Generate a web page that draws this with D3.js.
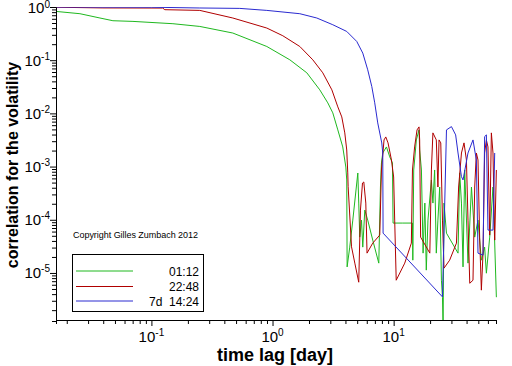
<!DOCTYPE html>
<html><head><meta charset="utf-8">
<script src="https://cdn.jsdelivr.net/npm/d3@7"></script>
<style>
body{margin:0;background:#fff}
svg{display:block}
text{font-family:"Liberation Sans",Arial,Helvetica,sans-serif;fill:#000}
</style>
</head><body>
<svg id="chart" width="512" height="366"></svg>
<script>
// ---- data ----
const seriesNames = ["01:12", "22:48", "7d  14:24"];
const seriesColors = ["#1fb81f", "#b00000", "#2a2ad0"];

const greenLag  = [0.0163,0.0257,0.0376,0.0481,0.0704,0.1505,0.251,0.470,0.897,1.389,1.919,2.456,2.86,3.145,3.46,3.80,4.03,4.10,4.13,4.34,4.60,5.06,5.15,5.25,5.43,5.56,5.78,6.11,6.72,7.54,7.78,7.93,8.13,8.72,9.29,9.77,9.89,11.9,14.3,14.4,14.65,15.4,16.2,16.4,16.96,17.5,18.1,18.6,19.2,20.5,21.1,21.8,22.5,23.2,24.0,24.8,25.3,25.6,26.05,27.3,34.0,35.1,36.3,37.4,38.6,41.1,43.9,46.7,49.7,53.0,56.4,58.3,62.1,66.1,70.5];
const greenCorr = [0.826,0.748,0.621,0.552,0.536,0.485,0.431,0.324,0.181,0.1017,0.0579,0.0277,0.01576,0.01022,0.00489,0.00234,0.00098,0.00056,1.30e-5,3.06e-5,9.86e-5,7.57e-4,2.06e-4,4.72e-5,9.86e-5,3.06e-5,1.52e-4,9.86e-5,4.15e-5,1.53e-5,4.13e-4,0.00117,0.0018,0.00234,0.00152,0.00117,8.67e-5,8.67e-5,8.67e-5,1.74e-5,8.63e-4,0.00317,0.00489,0.00205,8.63e-4,2.36e-5,2.06e-4,1.13e-5,9.86e-5,5.6e-4,2.06e-4,8.63e-4,2.36e-5,9.86e-5,4.13e-4,7.3e-6,3.5e-6,1.0e-6,2.06e-4,5.6e-5,2.36e-5,7.6e-4,2.06e-4,1.30e-5,8.63e-4,1.53e-5,4.13e-4,4.72e-5,9.86e-5,1.74e-5,3.06e-5,9.9e-6,4.72e-5,4.13e-4,3.5e-6];

const redLag  = [0.0163,0.0398,0.124,0.129,0.251,0.470,0.897,1.216,1.68,2.15,2.60,3.09,3.46,3.73,3.95,4.10,4.18,4.21,4.49,4.78,5.15,5.32,5.53,5.67,5.89,6.03,6.72,7.68,7.93,8.33,8.61,8.99,9.59,10.0,10.2,10.5,12.35,14.0,14.3,14.9,15.6,16.2,16.4,16.7,19.9,20.5,21.1,22.5,23.2,23.7,24.5,25.3,26.05,29.0,33.0,34.4,36.3,38.1,39.9,41.1,42.5,45.2,46.7,48.2,49.7,51.3,53.0,54.7,56.4,58.3,60.1,62.1,64.1,66.1,68.3,70.5];
const redCorr = [0.99,0.96,0.955,0.89,0.863,0.621,0.402,0.288,0.181,0.1017,0.0579,0.0277,0.01326,0.00859,0.0043,0.00205,7.6e-4,4.18e-4,3.1e-5,1.53e-5,6.7e-6,1.52e-4,4.91e-4,5.13e-4,2.06e-4,2.36e-5,3.64e-5,5.15e-5,8.63e-4,0.00317,0.00361,0.00279,0.00133,6.37e-4,9.86e-5,7.3e-6,1.53e-5,3.64e-5,8.63e-4,0.00234,0.00489,0.00557,0.00317,4.72e-5,2.36e-5,8.63e-4,0.0043,0.00317,4.13e-4,0.00317,0.00279,9.86e-5,1.23e-5,1.74e-5,3.64e-5,4.13e-4,0.0018,0.00279,0.00133,9.86e-5,6.4e-6,7.3e-6,4.13e-4,0.0018,0.00133,4.72e-5,4.75e-6,2.36e-5,0.0018,0.00317,0.00234,5.15e-5,0.0043,0.0018,4.15e-5,8.63e-4];

const blueLag  = [0.0163,0.1,0.251,0.537,0.897,1.68,2.32,3.145,4.10,4.96,5.56,6.11,6.60,6.98,7.39,7.98,8.13,8.18,25.3,27.3,30.0,32.5,34.0,36.3,37.4,41.1,45.2,48.2,49.7,54.7,56.4,58.3,60.1,66.1,68.3];
const blueCorr = [0.998,0.99,0.958,0.941,0.863,0.748,0.621,0.464,0.347,0.225,0.136,0.0659,0.0320,0.0158,0.00662,0.00278,0.0018,5.61e-5,3.55e-6,0.00489,0.00564,0.00394,0.0018,6.45e-4,5.6e-4,0.0018,0.00317,0.00133,2.36e-5,2.16e-5,0.00366,0.00394,6.4e-5,6.4e-5,0.0018];

const xDomain = [0.0163, 70];
const yDomain = [1.25e-6, 1];
const xMajorExps = [-1, 0, 1];
const yMajorExps = [0, -1, -2, -3, -4, -5];

// ---- drawing ----
const svg = d3.select("#chart");
const x = d3.scaleLog().domain(xDomain).range([56, 496]);
const y = d3.scaleLog().domain(yDomain).range([321, 7]);

function logTicks(dom){
  const out = [];
  for (let e = -7; e <= 2; e++) for (let k = 1; k <= 9; k++) {
    const v = k * Math.pow(10, e);
    if (v >= dom[0] * 0.9999 && v <= dom[1] * 1.0001) out.push(v);
  }
  return out;
}
const isMajor = v => Math.abs(Math.log10(v) - Math.round(Math.log10(v))) < 1e-6;

svg.append("defs").append("clipPath").attr("id","plotclip")
  .append("rect").attr("x",56).attr("y",7).attr("width",441).attr("height",314);

const series = [
  {name: seriesNames[0], color: seriesColors[0], lag: greenLag, corr: greenCorr},
  {name: seriesNames[1], color: seriesColors[1], lag: redLag, corr: redCorr},
  {name: seriesNames[2], color: seriesColors[2], lag: blueLag, corr: blueCorr}
];

const line = d3.line().x(d => x(d[0])).y(d => y(d[1]));
const plot = svg.append("g").attr("clip-path","url(#plotclip)");
series.forEach(s => {
  plot.append("path")
    .datum(s.lag.map((l,i) => [l, s.corr[i]]))
    .attr("fill","none").attr("stroke", s.color).attr("stroke-width",1)
    .attr("d", line);
});

// x axis
const xAxis = d3.axisBottom(x).tickValues(logTicks(xDomain)).tickFormat("").tickSizeOuter(0).tickSize(4);
const gx = svg.append("g").attr("transform","translate(0,320)").call(xAxis);
gx.selectAll(".tick line").attr("y2", d => isMajor(d) ? 6 : 4);
gx.select(".domain").attr("stroke","#000");

// y axis
const yAxis = d3.axisLeft(y).tickValues(logTicks(yDomain)).tickFormat("").tickSizeOuter(0).tickSize(4);
const gy = svg.append("g").attr("transform","translate(56,0)").call(yAxis);
gy.selectAll(".tick line").attr("x2", d => isMajor(d) ? -6 : -4);
gy.select(".domain").attr("stroke","#000");

// tick labels with superscripts
xMajorExps.forEach(e => {
  const t = svg.append("text").attr("x", x(Math.pow(10,e))).attr("y", 342)
    .attr("text-anchor","middle").style("font-size","15px");
  t.append("tspan").text("10");
  t.append("tspan").attr("dy",-6).style("font-size","10px").text(String(e));
});
yMajorExps.forEach(e => {
  const t = svg.append("text").attr("x", 50).attr("y", y(Math.pow(10,e)) + 5.5)
    .attr("text-anchor","end").style("font-size","15px");
  t.append("tspan").text("10");
  t.append("tspan").attr("dy", e === 0 ? -5 : -6).style("font-size","10px").text(String(e));
});

// axis titles
svg.append("text").attr("x", 217).attr("y", 361).style("font-size","18px").style("font-weight","bold")
  .text("time lag [day]");
svg.append("text").attr("transform","translate(18,165) rotate(-90)")
  .attr("text-anchor","middle").style("font-size","16px").style("font-weight","bold")
  .text("correlation for the volatility");

// copyright
svg.append("text").attr("x", 73).attr("y", 238).style("font-size","9px")
  .attr("textLength",125).text("Copyright Gilles Zumbach 2012");

// legend
svg.append("rect").attr("x",72.5).attr("y",254.5).attr("width",131).attr("height",57)
  .attr("fill","#fff").attr("stroke","#000").attr("stroke-width",1);
const rowsY = [271, 286.5, 301];
series.forEach((s,i) => {
  svg.append("line").attr("x1",76).attr("x2",133).attr("y1",rowsY[i]).attr("y2",rowsY[i])
    .attr("stroke", s.color).attr("stroke-width",1);
  svg.append("text").attr("x",199).attr("y",rowsY[i]+4.5).attr("text-anchor","end")
    .style("font-size","12px").style("white-space","pre").text(s.name);
});
</script>
</body></html>
